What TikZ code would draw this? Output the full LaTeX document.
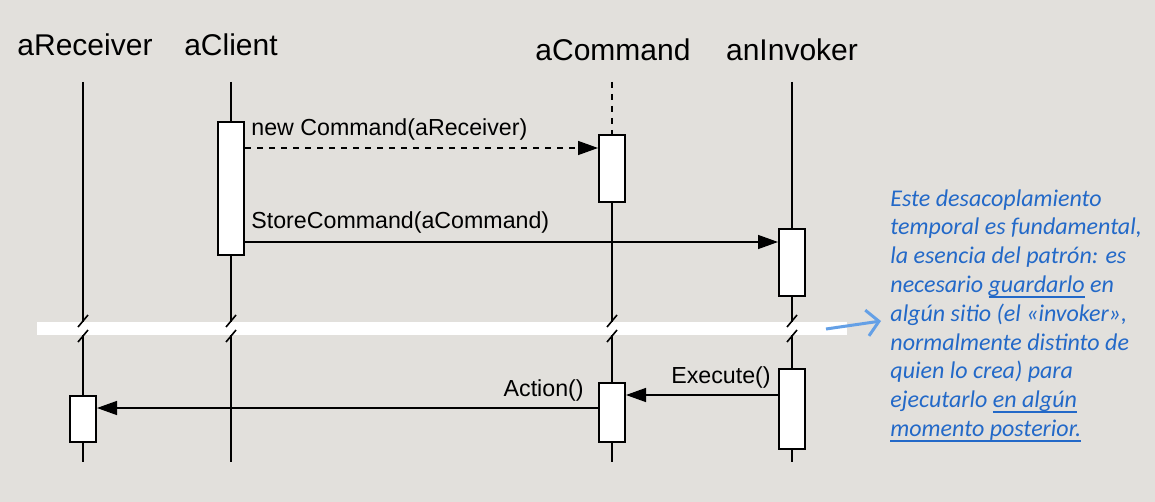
\documentclass[tikz,border=0pt]{standalone}
\usepackage{fontspec}
\setmainfont{Liberation Sans}
\newfontfamily\notefont{Carlito}
\usetikzlibrary{arrows.meta}
\definecolor{paper}{RGB}{226,224,220}
\definecolor{noteblue}{RGB}{35,105,200}
\definecolor{arrowblue}{RGB}{100,160,230}
\newcommand\notebar[1]{\setbox0\hbox{#1}\rlap{\rule[-2.6pt]{\wd0}{0.9pt}}\box0\relax}

\begin{document}
\begin{tikzpicture}[x=0.5pt,y=-0.5pt,
    head/.style={font=\fontsize{15}{18}\selectfont},
    act/.style={draw,fill=white,line width=1pt,minimum width=13pt,inner sep=0pt},
    life/.style={line width=1pt},
    call/.style={line width=0.7pt,-{Triangle[length=10pt,width=7pt]}},
    lbl/.style={font=\fontsize{11.6}{14}\selectfont,inner sep=0pt},
    brk/.style={line width=0.8pt}]
  \fill[paper] (0,0) rectangle (1155,502);
  \useasboundingbox (0,0) rectangle (1155,502);

  % objects
  \node[head] (rcv) at (85,45) {aReceiver};
  \node[head] (cli) at (231,45) {aClient};
  \node[head] (cmd) at (613,50) {aCommand};
  \node[head] (inv) at (792,50) {anInvoker};

  \coordinate (rcvtop) at (83,82);  \coordinate (rcvbot) at (83,462);
  \coordinate (clitop) at (231,82); \coordinate (clibot) at (231,462);
  \coordinate (cmdtop) at (612,82); \coordinate (cmdbot) at (612,462);
  \coordinate (invtop) at (792,82); \coordinate (invbot) at (792,462);

  % activations
  \node[act,minimum height=66.5pt] (cli1) at (231,188.5) {};
  \node[act,minimum height=33.5pt] (cmd1) at (612,168.5) {};
  \node[act,minimum height=33.5pt] (inv1) at (792,262.5) {};
  \node[act,minimum height=23pt] (rcv1) at (83,419) {};
  \node[act,minimum height=29.5pt] (cmd2) at (612,412.5) {};
  \node[act,minimum height=40pt] (inv2) at (792,409) {};

  % lifelines
  \draw[life] (rcvtop) -- (rcv1.north);
  \draw[life] (rcv1.south) -- (rcvbot);
  \draw[life] (clitop) -- (cli1.north);
  \draw[life] (cli1.south) -- (clibot);
  \draw[life,dashed] (cmdtop) -- (cmd1.north);
  \draw[life] (cmd1.south) -- (cmd2.north);
  \draw[life] (cmd2.south) -- (cmdbot);
  \draw[life] (invtop) -- (inv1.north);
  \draw[life] (inv1.south) -- (inv2.north);
  \draw[life] (inv2.south) -- (invbot);

  % time break
  \fill[white] (37,322) rectangle (847,335);
  \foreach \x in {83,231,612,792} {
    \draw[brk] (\x-5,327) -- (\x+5,315);
    \draw[brk] (\x-5,342) -- (\x+5,330);
  }

  % messages
  \draw[call,dashed] (cli1.east |- 0,148) -- (cmd1.west |- 0,148);
  \node[lbl,anchor=west] (newlbl) at (251,129) {new Command(aReceiver)};
  \draw[call] (cli1.east |- 0,242) -- (inv1.west |- 0,242);
  \node[lbl,anchor=west] (storelbl) at (251,222) {StoreCommand(aCommand)};
  \draw[call] (inv2.west |- 0,395) -- (cmd2.east |- 0,395);
  \node[lbl,anchor=east] (execlbl) at (771,377) {Execute()};
  \draw[call] (cmd2.west |- 0,408) -- (rcv1.east |- 0,408);
  \node[lbl,anchor=east] (actlbl) at (584,390) {Action()};

  % note
  \node[anchor=north west,align=left,inner sep=0pt,text=noteblue,
        font=\notefont\itshape\fontsize{12}{14.4}\selectfont] (note) at (890,189)
    {Este desacoplamiento\\
     temporal es fundamental,\\
     la esencia del patrón: es\\
     necesario \notebar{guardarlo} en\\
     algún sitio (el «invoker»,\\
     normalmente distinto de\\
     quien lo crea) para\\
     ejecutarlo \notebar{en algún}\\
     \notebar{momento posterior.}};
  \coordinate (notefrom) at (826,329);
  \coordinate (noteto) at (881,321);
  \draw[arrowblue,line width=1.5pt,-{Straight Barb[length=6pt,width=13pt]}] (notefrom) -- (noteto);
\end{tikzpicture}
\end{document}
